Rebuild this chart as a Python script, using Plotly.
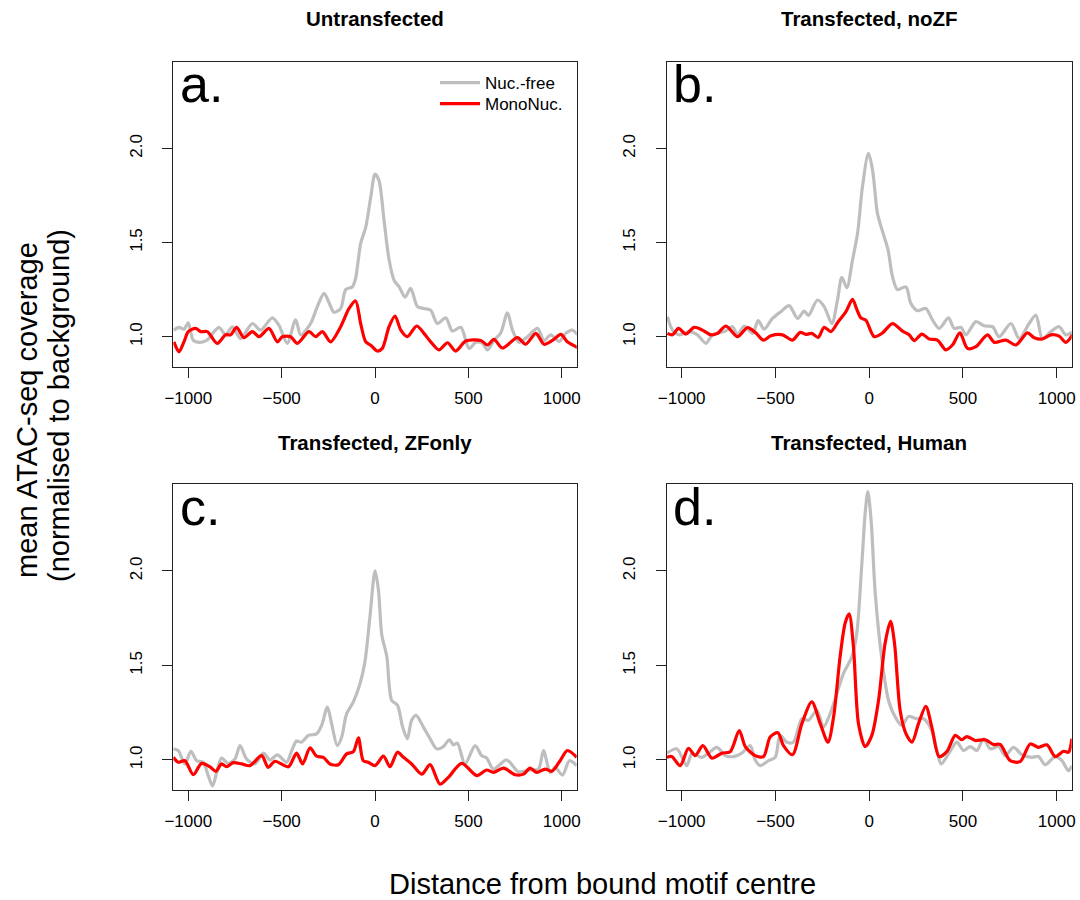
import plotly.graph_objects as go

# ---------------- data ----------------
panel_titles = ["Untransfected", "Transfected, noZF", "Transfected, ZFonly", "Transfected, Human"]
panel_letters = ["a.", "b.", "c.", "d."]
series_names = ["Nuc.-free", "MonoNuc."]
x_ticks = [-1000, -500, 0, 500, 1000]
y_ticks = [1.0, 1.5, 2.0]
y_tick_text = ["1.0", "1.5", "2.0"]

# Panel a: Untransfected
a_nuc_x = [-1077, -1050, -1023, -1000, -973, -937, -902, -836, -800, -764, -720, -657, -613, -550, -514, -470, -425, -398, -345, -309, -273, -246, -220, -184, -157, -121, -104, -77, -50, -23, 0, 21, 48, 75, 102, 129, 161, 191, 227, 262, 298, 334, 379, 414, 459, 504, 539, 575, 602, 637, 673, 709, 736, 771, 816, 870, 905, 941, 986, 1021, 1057, 1084]
a_nuc_y = [1.035, 1.05, 1.04, 1.074, 0.98, 0.97, 0.98, 1.05, 1.01, 1.053, 0.99, 1.07, 1.035, 1.10, 1.06, 0.965, 1.09, 1.01, 1.07, 1.16, 1.23, 1.18, 1.13, 1.15, 1.25, 1.265, 1.31, 1.495, 1.58, 1.74, 1.864, 1.83, 1.62, 1.41, 1.30, 1.265, 1.21, 1.257, 1.16, 1.15, 1.14, 1.07, 1.10, 1.03, 1.05, 0.938, 0.97, 0.965, 0.93, 0.98, 1.02, 1.127, 1.035, 0.97, 1.0, 1.044, 0.98, 1.01, 0.975, 1.018, 1.035, 1.01]
a_mono_x = [-1077, -1050, -1023, -1000, -961, -934, -898, -845, -800, -773, -741, -702, -657, -621, -568, -523, -496, -452, -416, -354, -318, -282, -238, -184, -139, -104, -77, -50, -23, 12, 39, 75, 107, 138, 173, 223, 262, 298, 343, 388, 432, 486, 566, 602, 637, 682, 762, 807, 861, 905, 950, 995, 1030, 1084]
a_mono_y = [0.973, 0.92, 0.973, 1.027, 1.044, 1.027, 1.027, 0.965, 1.01, 1.01, 1.05, 0.995, 1.027, 1.0, 1.044, 0.973, 1.0, 1.0, 0.965, 1.027, 1.0, 1.027, 0.973, 1.053, 1.15, 1.19, 1.07, 0.973, 0.955, 0.924, 0.938, 1.053, 1.11, 1.035, 1.0, 1.057, 1.018, 0.973, 0.93, 0.968, 0.924, 0.977, 0.98, 0.956, 0.986, 0.94, 0.995, 0.96, 1.018, 0.96, 0.98, 1.012, 0.973, 0.943]

# Panel b: Transfected, noZF
b_nuc_x = [-1076, -1049, -1013, -960, -916, -871, -836, -773, -729, -702, -667, -622, -592, -560, -516, -471, -427, -382, -347, -324, -276, -240, -199, -169, -146, -119, -89, -62, -36, -4, 18, 44, 71, 101, 124, 151, 196, 222, 258, 302, 338, 373, 423, 453, 489, 516, 569, 613, 658, 693, 756, 800, 853, 889, 924, 969, 1013, 1049, 1084]
b_nuc_y = [1.106, 1.035, 1.01, 1.027, 1.01, 0.965, 1.01, 1.027, 1.053, 1.01, 1.057, 1.018, 1.085, 1.04, 1.097, 1.133, 1.165, 1.097, 1.136, 1.113, 1.195, 1.16, 1.07, 1.195, 1.315, 1.26, 1.407, 1.549, 1.796, 1.973, 1.885, 1.655, 1.56, 1.46, 1.32, 1.25, 1.265, 1.177, 1.138, 1.15, 1.088, 1.044, 1.10, 1.044, 1.05, 1.01, 1.08, 1.058, 1.053, 1.0, 1.07, 0.99, 1.07, 1.115, 0.99, 1.027, 1.053, 1.01, 1.024]
b_mono_x = [-1076, -1049, -1017, -978, -933, -889, -844, -809, -764, -702, -649, -604, -565, -524, -462, -409, -368, -338, -306, -272, -240, -204, -169, -124, -89, -66, -44, -18, 27, 71, 124, 178, 213, 240, 281, 320, 364, 409, 444, 484, 524, 569, 631, 667, 729, 782, 844, 880, 924, 969, 1013, 1049, 1084]
b_mono_y = [1.018, 1.01, 1.044, 1.014, 1.05, 1.035, 1.01, 1.018, 1.057, 1.0, 1.048, 1.02, 0.982, 1.005, 1.01, 0.982, 1.023, 1.012, 1.018, 0.996, 1.05, 1.027, 1.074, 1.133, 1.198, 1.145, 1.10, 1.088, 1.0, 1.02, 1.07, 1.03, 1.01, 0.979, 1.014, 0.988, 0.982, 0.93, 0.956, 1.02, 0.938, 0.947, 1.01, 0.97, 0.982, 0.956, 1.02, 0.995, 0.988, 1.01, 1.003, 0.97, 1.01]

# Panel c: Transfected, ZFonly
c_nuc_x = [-1080, -1054, -1018, -986, -955, -920, -893, -870, -848, -822, -786, -750, -723, -688, -643, -598, -563, -523, -473, -446, -420, -393, -357, -313, -286, -255, -232, -202, -179, -152, -116, -80, -54, -27, 0, 18, 36, 63, 89, 120, 148, 173, 196, 220, 259, 295, 330, 366, 398, 420, 441, 482, 536, 571, 598, 634, 705, 768, 830, 875, 902, 938, 964, 1004, 1041, 1080]
c_nuc_y = [1.059, 1.05, 0.979, 1.046, 0.996, 0.988, 0.917, 0.863, 0.934, 1.01, 0.982, 1.005, 1.076, 1.005, 0.979, 1.036, 1.0, 1.027, 0.988, 1.05, 1.10, 1.094, 1.13, 1.138, 1.183, 1.28, 1.19, 1.076, 1.12, 1.245, 1.307, 1.405, 1.52, 1.76, 2.0, 1.902, 1.663, 1.547, 1.316, 1.29, 1.174, 1.112, 1.21, 1.236, 1.174, 1.112, 1.059, 1.071, 1.107, 1.08, 1.089, 0.979, 1.076, 1.023, 1.01, 0.952, 1.0, 0.938, 0.947, 0.952, 1.05, 0.934, 0.961, 0.92, 0.996, 0.97]
c_mono_x = [-1080, -1054, -1018, -973, -929, -884, -852, -822, -795, -759, -714, -670, -607, -572, -536, -464, -420, -388, -348, -313, -277, -241, -196, -152, -116, -89, -63, -36, 0, 45, 80, 120, 152, 196, 250, 295, 348, 393, 464, 545, 598, 634, 688, 750, 795, 830, 866, 911, 947, 991, 1030, 1080]
c_mono_y = [1.014, 0.988, 0.996, 0.922, 0.982, 0.964, 0.94, 0.979, 0.964, 0.986, 0.979, 0.97, 1.023, 0.961, 0.993, 0.964, 1.036, 0.979, 1.064, 1.02, 1.014, 0.979, 0.975, 1.032, 1.044, 1.117, 0.996, 0.988, 0.97, 1.02, 0.964, 1.041, 1.014, 0.979, 0.925, 0.975, 0.872, 0.908, 0.982, 0.917, 0.947, 0.934, 0.957, 0.922, 0.925, 0.957, 0.934, 0.952, 0.94, 0.996, 1.05, 1.014]

# Panel d: Transfected, Human
d_nuc_x = [-1079, -1026, -973, -946, -892, -857, -812, -768, -724, -679, -635, -608, -581, -537, -501, -475, -439, -404, -359, -324, -279, -244, -208, -172, -137, -92, -66, -39, -21, -7, 11, 32, 68, 103, 139, 174, 210, 254, 290, 334, 361, 384, 423, 468, 503, 539, 574, 610, 645, 690, 725, 770, 814, 868, 903, 939, 992, 1028, 1063, 1081]
d_nuc_y = [1.036, 1.059, 0.97, 1.032, 1.014, 1.036, 1.067, 1.023, 1.018, 1.036, 1.076, 1.0, 0.97, 0.996, 1.014, 1.13, 1.094, 1.094, 1.218, 1.21, 1.263, 1.174, 1.245, 1.352, 1.458, 1.547, 1.671, 2.04, 2.31, 2.42, 2.258, 1.885, 1.53, 1.316, 1.227, 1.183, 1.23, 1.218, 1.218, 1.156, 1.05, 0.979, 1.032, 1.094, 1.05, 1.071, 1.05, 1.112, 1.059, 1.071, 1.023, 1.067, 1.028, 1.014, 1.018, 0.975, 1.018, 0.996, 0.943, 0.97]
d_mono_x = [-1079, -1053, -1008, -964, -928, -887, -839, -786, -741, -693, -661, -608, -564, -528, -487, -457, -409, -359, -306, -261, -220, -190, -155, -128, -107, -84, -57, -21, 14, 50, 85, 114, 135, 165, 196, 228, 263, 302, 334, 373, 414, 459, 494, 521, 565, 619, 663, 699, 752, 805, 859, 903, 948, 992, 1037, 1063, 1081]
d_mono_y = [1.014, 1.018, 0.97, 1.062, 1.023, 1.076, 1.01, 1.036, 1.044, 1.156, 1.071, 1.023, 1.018, 1.121, 1.144, 1.076, 1.028, 1.192, 1.307, 1.192, 1.094, 1.227, 1.548, 1.725, 1.773, 1.60, 1.192, 1.071, 1.13, 1.316, 1.618, 1.734, 1.618, 1.263, 1.139, 1.094, 1.192, 1.284, 1.174, 1.018, 1.044, 1.13, 1.107, 1.124, 1.103, 1.107, 1.082, 1.082, 0.996, 0.991, 1.085, 1.067, 1.08, 1.018, 1.046, 1.041, 1.112]

panels = [
    (a_nuc_x, a_nuc_y, a_mono_x, a_mono_y),
    (b_nuc_x, b_nuc_y, b_mono_x, b_mono_y),
    (c_nuc_x, c_nuc_y, c_mono_x, c_mono_y),
    (d_nuc_x, d_nuc_y, d_mono_x, d_mono_y),
]

# ---------------- layout geometry ----------------
W, H = 1080, 900
x_domains = [[0.1605, 0.5340], [0.6173, 0.9923], [0.1605, 0.5340], [0.6173, 0.9923]]
y_domains = [[0.5926, 0.9314], [0.5926, 0.9314], [0.1222, 0.4622], [0.1222, 0.4622]]
x_range = [-1080, 1080]
y_range = [0.841, 2.46]

GREY = "#BEBEBE"
RED = "#FF0000"
FONT = "Liberation Sans, Arial, Helvetica, sans-serif"

legend_common = dict(xanchor="left", yanchor="top", bgcolor="rgba(0,0,0,0)", borderwidth=0,
                     font=dict(size=17, family=FONT, color="black"), itemwidth=40)

fig = go.Figure()
layout = dict(
    template="none",
    width=W, height=H, margin=dict(l=0, r=0, t=0, b=0, pad=0),
    paper_bgcolor="white", plot_bgcolor="white",
    font=dict(family=FONT, color="black"),
    showlegend=True,
    legend=dict(x=435 / W, y=1 - 65 / H, **legend_common),
    legend2=dict(x=435 / W, y=1 - 86 / H, **legend_common),
)
annotations = []

for i, (nx, ny, mx, my) in enumerate(panels):
    k = "" if i == 0 else str(i + 1)
    xa, ya = "x" + k, "y" + k
    fig.add_trace(go.Scatter(x=nx, y=ny, mode="lines", name=series_names[0],
                             line=dict(color=GREY, width=3.2, shape="spline", smoothing=0.8),
                             xaxis=xa, yaxis=ya, showlegend=(i == 0), legend="legend",
                             hoverinfo="skip"))
    fig.add_trace(go.Scatter(x=mx, y=my, mode="lines", name=series_names[1],
                             line=dict(color=RED, width=3.2, shape="spline", smoothing=0.8),
                             xaxis=xa, yaxis=ya, showlegend=(i == 0), legend="legend2",
                             hoverinfo="skip"))
    axcommon = dict(showgrid=False, zeroline=False, showline=True, linecolor="#222",
                    linewidth=1, mirror=True, ticks="outside", ticklen=10, tickwidth=1,
                    tickcolor="#222", automargin=False,
                    tickfont=dict(size=17, family=FONT, color="black"))
    layout["xaxis" + k] = dict(domain=x_domains[i], range=x_range, tickvals=x_ticks,
                               anchor=ya, ticklabelstandoff=6, **axcommon)
    layout["yaxis" + k] = dict(domain=y_domains[i], range=y_range, tickvals=y_ticks,
                               ticktext=y_tick_text, tickangle=-90, anchor=xa,
                               ticklabelstandoff=14, **axcommon)
    # panel title
    cx = (x_domains[i][0] + x_domains[i][1]) / 2
    ty = 0.979 if i < 2 else 0.508
    annotations.append(dict(text="<b>%s</b>" % panel_titles[i], x=cx, y=ty, xref="paper", yref="paper",
                            xanchor="center", yanchor="middle", showarrow=False,
                            font=dict(size=20.5, family=FONT, color="black")))
    # panel letter
    annotations.append(dict(text=panel_letters[i], x=x_domains[i][0] + 0.004,
                            y=y_domains[i][1] - 0.025, xref="paper", yref="paper",
                            xanchor="left", yanchor="middle", showarrow=False,
                            font=dict(size=52, family=FONT, color="black")))

# shared axis titles
annotations.append(dict(text="Distance from bound motif centre", x=602 / W, y=1 - 884 / H,
                        xref="paper", yref="paper", xanchor="center", yanchor="middle",
                        showarrow=False, font=dict(size=29, family=FONT, color="black")))
annotations.append(dict(text="mean ATAC-seq coverage",
                        x=27 / W, y=1 - 410 / H, xref="paper", yref="paper",
                        xanchor="center", yanchor="middle", textangle=-90, showarrow=False,
                        font=dict(size=29, family=FONT, color="black")))
annotations.append(dict(text="(normalised to background)",
                        x=59 / W, y=1 - 406 / H, xref="paper", yref="paper",
                        xanchor="center", yanchor="middle", textangle=-90, showarrow=False,
                        font=dict(size=29, family=FONT, color="black")))
layout["annotations"] = annotations
fig.update_layout(**layout)
fig.write_html("out.html")
